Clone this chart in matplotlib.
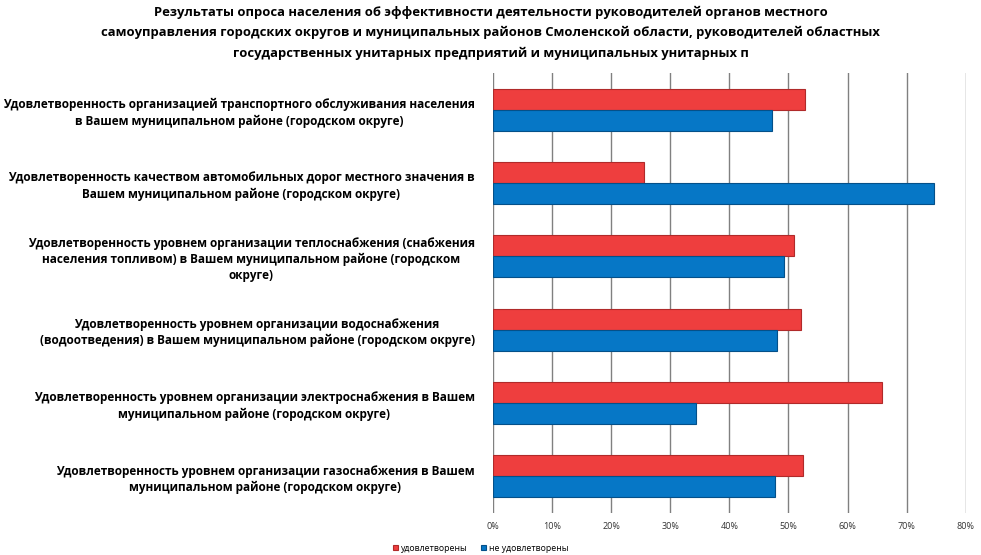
import matplotlib.pyplot as plt
import numpy as np

# Survey data, percent (top category first)
categories = [
    "Удовлетворенность организацией транспортного обслуживания населения\nв Вашем муниципальном районе (городском округе)",
    "Удовлетворенность качеством автомобильных дорог местного значения в\nВашем муниципальном районе (городском округе)",
    "Удовлетворенность уровнем организации теплоснабжения (снабжения\nнаселения топливом) в Вашем муниципальном районе (городском\nокруге)",
    "Удовлетворенность уровнем организации водоснабжения\n(водоотведения) в Вашем муниципальном районе (городском округе)",
    "Удовлетворенность уровнем организации электроснабжения в Вашем\nмуниципальном районе (городском округе)",
    "Удовлетворенность уровнем организации газоснабжения в Вашем\nмуниципальном районе (городском округе)",
]
satisfied = [52.8, 25.5, 50.9, 52.1, 65.8, 52.4]
not_satisfied = [47.3, 74.7, 49.3, 48.1, 34.4, 47.8]
xticks = [0, 10, 20, 30, 40, 50, 60, 70, 80]

title = ("Результаты опроса населения об эффективности деятельности руководителей органов местного\n"
         "самоуправления городских округов и муниципальных районов Смоленской области, руководителей областных\n"
         "государственных унитарных предприятий и муниципальных унитарных п")

plt.rcParams['font.family'] = ['Open Sans', 'DejaVu Sans']

fig = plt.figure(figsize=(9.81, 5.55), dpi=100)
ax = fig.add_axes([0.5023, 0.0757, 0.4822, 0.7928])

y = np.arange(len(categories))
h = 0.286
red_bars = ax.barh(y - h / 2, satisfied, height=h, color='#EE3E3E',
                   edgecolor='#B02A2A', linewidth=0.8, label='удовлетворены', zorder=3)
blue_bars = ax.barh(y + h / 2, not_satisfied, height=h, color='#0677C6',
                    edgecolor='#045089', linewidth=0.8, label='не удовлетворены', zorder=3)

ax.set_xlim(0, 80)
ax.set_ylim(len(categories) - 0.5, -0.5)
ax.set_xticks(xticks)
ax.set_xticklabels([f"{t}%" for t in xticks], fontsize=6.5, color='#333333')
ax.tick_params(axis='x', length=0, pad=6.5)
ax.set_yticks(y)
ax.set_yticklabels(categories, fontsize=8.5, fontweight='bold', multialignment='center',
                   linespacing=1.32)
ax.tick_params(axis='y', length=0, pad=13)
ax.grid(axis='x', color='#808080', linewidth=1.0, zorder=0)
for s in ax.spines.values():
    s.set_visible(False)

fig.text(0.5, 0.99, title, ha='center', va='top', fontsize=9.4, fontweight='bold',
         linespacing=1.75)

fig.legend(handles=[red_bars, blue_bars], loc='lower center', bbox_to_anchor=(0.49, -0.01),
           ncol=2, frameon=False, fontsize=6.3, handlelength=0.6, handleheight=0.6,
           handletextpad=0.3, columnspacing=1.5)

plt.savefig("out.png", dpi=100)
